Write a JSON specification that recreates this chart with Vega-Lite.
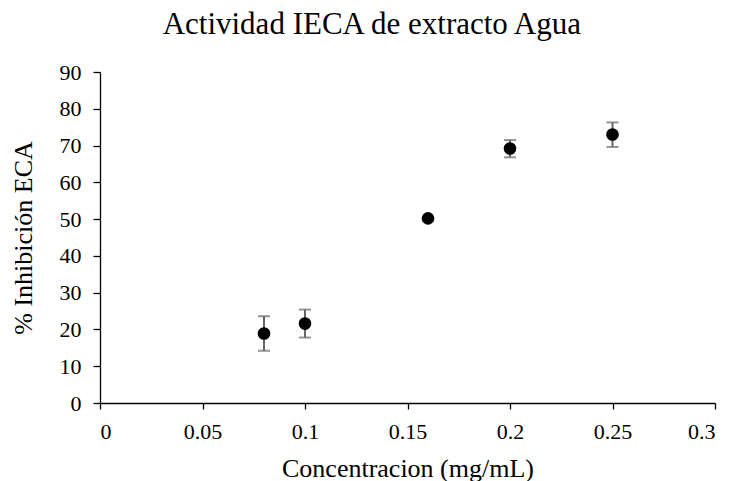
{
  "$schema": "https://vega.github.io/schema/vega-lite/v6.json",
  "width": 615,
  "height": 331,
  "autosize": {"type": "none"},
  "padding": {"left": 100, "top": 72, "right": 15, "bottom": 78},
  "background": "white",
  "title": {
    "text": "Actividad IECA de extracto Agua",
    "font": "Liberation Serif",
    "fontSize": 31,
    "fontWeight": "normal",
    "color": "black",
    "anchor": "middle",
    "frame": "bounds",
    "baseline": "alphabetic",
    "offset": -4,
    "dx": 9
  },
  "config": {
    "view": {"stroke": null},
    "axis": {
      "grid": false,
      "domainColor": "black",
      "domainWidth": 1.3,
      "tickColor": "black",
      "tickWidth": 1.3,
      "labelFont": "Liberation Serif",
      "labelFontSize": 22,
      "labelColor": "black",
      "labelOverlap": false,
      "titleFont": "Liberation Serif",
      "titleFontSize": 26,
      "titleFontWeight": "normal",
      "titleColor": "black"
    }
  },
  "data": {
    "values": [
      {"conc": 0.08, "inh": 18.9, "lo": 14.2, "hi": 23.6},
      {"conc": 0.1, "inh": 21.6, "lo": 17.8, "hi": 25.4},
      {"conc": 0.16, "inh": 50.2, "lo": 49.8, "hi": 50.6},
      {"conc": 0.2, "inh": 69.2, "lo": 66.8, "hi": 71.5},
      {"conc": 0.25, "inh": 73.0, "lo": 69.6, "hi": 76.3}
    ]
  },
  "encoding": {
    "x": {
      "field": "conc", "type": "quantitative",
      "scale": {"domain": [0, 0.3], "nice": false},
      "axis": {"values": [0, 0.05, 0.1, 0.15, 0.2, 0.25, 0.3], "format": "~g", "tickSize": 6, "labelPadding": 12, "title": "Concentracion (mg/mL)", "titlePadding": 13}
    }
  },
  "layer": [
    {
      "mark": {"type": "rule", "color": "#666666", "strokeWidth": 2},
      "encoding": {
        "y": {
          "field": "lo", "type": "quantitative",
          "scale": {"domain": [0, 90], "nice": false},
          "axis": {"values": [0, 10, 20, 30, 40, 50, 60, 70, 80, 90], "tickCount": 10, "tickSize": 7, "labelPadding": 12, "title": "% Inhibición ECA", "titlePadding": 23}
        },
        "y2": {"field": "hi"}
      }
    },
    {
      "mark": {"type": "tick", "orient": "horizontal", "color": "#666666", "size": 12, "thickness": 2},
      "encoding": {
        "y": {
          "field": "lo", "type": "quantitative",
          "scale": {"domain": [0, 90], "nice": false},
          "axis": {"values": [0, 10, 20, 30, 40, 50, 60, 70, 80, 90], "tickCount": 10, "tickSize": 7, "labelPadding": 12, "title": "% Inhibición ECA", "titlePadding": 23}
        }
      }
    },
    {
      "mark": {"type": "tick", "orient": "horizontal", "color": "#666666", "size": 12, "thickness": 2},
      "encoding": {
        "y": {
          "field": "hi", "type": "quantitative",
          "scale": {"domain": [0, 90], "nice": false},
          "axis": {"values": [0, 10, 20, 30, 40, 50, 60, 70, 80, 90], "tickCount": 10, "tickSize": 7, "labelPadding": 12, "title": "% Inhibición ECA", "titlePadding": 23}
        }
      }
    },
    {
      "mark": {"type": "point", "filled": true, "color": "black", "opacity": 1, "size": 160},
      "encoding": {
        "y": {
          "field": "inh", "type": "quantitative",
          "scale": {"domain": [0, 90], "nice": false},
          "axis": {"values": [0, 10, 20, 30, 40, 50, 60, 70, 80, 90], "tickCount": 10, "tickSize": 7, "labelPadding": 12, "title": "% Inhibición ECA", "titlePadding": 23}
        }
      }
    }
  ]
}
